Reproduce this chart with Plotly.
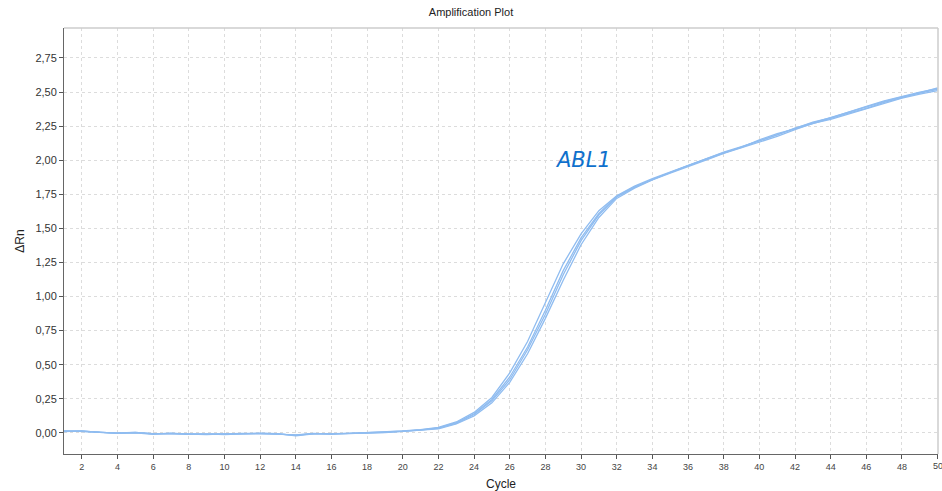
import plotly.graph_objects as go

cycles = list(range(1, 51))

rep_a = [0.012, 0.012, 0.005, -0.003, 0.002, -0.008, -0.004, -0.010, -0.010, -0.010,
         -0.006, -0.004, -0.008, -0.018, -0.006, -0.008, -0.006, 0.000, 0.004, 0.012,
         0.020, 0.035, 0.070, 0.135, 0.235, 0.39, 0.61, 0.87, 1.16, 1.41,
         1.60, 1.73, 1.80, 1.86, 1.91, 1.955, 2.005, 2.06, 2.10, 2.14,
         2.185, 2.235, 2.275, 2.31, 2.35, 2.39, 2.43, 2.465, 2.49, 2.52]
rep_b = [0.010, 0.014, 0.003, -0.001, 0.004, -0.006, -0.006, -0.008, -0.012, -0.008,
         -0.004, -0.006, -0.010, -0.014, -0.004, -0.010, -0.004, 0.002, 0.006, 0.014,
         0.024, 0.040, 0.080, 0.150, 0.260, 0.44, 0.67, 0.95, 1.24, 1.46,
         1.63, 1.74, 1.81, 1.865, 1.915, 1.96, 2.01, 2.055, 2.095, 2.15,
         2.195, 2.23, 2.27, 2.305, 2.345, 2.38, 2.425, 2.46, 2.495, 2.53]
rep_c = [0.014, 0.010, 0.006, -0.004, 0.000, -0.010, -0.002, -0.010, -0.008, -0.012,
         -0.008, -0.002, -0.006, -0.022, -0.008, -0.006, -0.008, -0.002, 0.002, 0.010,
         0.018, 0.030, 0.065, 0.125, 0.220, 0.37, 0.58, 0.84, 1.12, 1.38,
         1.58, 1.72, 1.795, 1.855, 1.905, 1.95, 2.00, 2.05, 2.09, 2.13,
         2.175, 2.225, 2.27, 2.30, 2.34, 2.375, 2.415, 2.455, 2.485, 2.51]
rep_d = [0.011, 0.013, 0.004, -0.002, 0.003, -0.007, -0.005, -0.009, -0.011, -0.009,
         -0.005, -0.005, -0.009, -0.016, -0.005, -0.007, -0.005, 0.001, 0.005, 0.013,
         0.022, 0.037, 0.075, 0.140, 0.245, 0.41, 0.63, 0.90, 1.19, 1.43,
         1.61, 1.735, 1.805, 1.86, 1.91, 1.96, 2.005, 2.055, 2.10, 2.145,
         2.19, 2.235, 2.28, 2.31, 2.355, 2.395, 2.435, 2.47, 2.5, 2.525]

series = [rep_a, rep_b, rep_c, rep_d]

x_ticks = list(range(2, 51, 2))
y_ticks = [0, 0.25, 0.5, 0.75, 1.0, 1.25, 1.5, 1.75, 2.0, 2.25, 2.5, 2.75]

fig = go.Figure()
for s in series:
    fig.add_trace(go.Scatter(x=cycles, y=s, mode="lines",
                             line=dict(color="#8fbcf0", width=1.3),
                             showlegend=False, hoverinfo="skip"))

fig.add_annotation(x=30.1, y=2.0, text="<i>ABL1</i>", showarrow=False,
                   font=dict(family="DejaVu Sans, Verdana", size=21, color="#0f70cc"))

# last x tick label (plotly drops the label sitting on the plot edge)
fig.add_annotation(x=x_ticks[-1], xref="x", y=0, yref="paper", yanchor="top",
                   yshift=-5, text=str(x_ticks[-1]), showarrow=False,
                   font=dict(size=9, color="#444"))

axis_common = dict(showgrid=True, gridcolor="#dcdcdc", griddash="dot", gridwidth=1,
                   zeroline=False, ticks="outside", ticklen=4, tickcolor="#555",
                   linecolor="#666", linewidth=1, showline=True, mirror=False)

fig.update_xaxes(range=[1, 50.02], tickvals=x_ticks, ticktext=[str(v) for v in x_ticks],
                 title=dict(text="Cycle", font=dict(size=12, color="#222"), standoff=8),
                 tickfont=dict(size=9, color="#444"), **axis_common)
fig.update_yaxes(range=[-0.155, 2.97], tickvals=y_ticks, tickformat=".2f",
                 title=dict(text="ΔRn", font=dict(size=12, color="#222"), standoff=8),
                 tickfont=dict(size=11, color="#333"), **axis_common)

# light frame on top/right
fig.add_shape(type="line", xref="paper", yref="paper", x0=0, x1=1, y0=1, y1=1,
              line=dict(color="#cccccc", width=1.5))
fig.add_shape(type="line", xref="paper", yref="paper", x0=1, x1=1, y0=0, y1=1,
              line=dict(color="#cccccc", width=1.5))

fig.update_layout(
    width=942, height=491,
    margin=dict(l=64, r=4, t=28, b=37),
    paper_bgcolor="white", plot_bgcolor="white",
    separators=",.",
    font=dict(family="Liberation Sans, Arial, sans-serif"),
    title=dict(text="Amplification Plot", x=0.5, xanchor="center", y=0.975, yanchor="middle",
               font=dict(size=11, color="#222")),
)

fig.write_html("out.html")
